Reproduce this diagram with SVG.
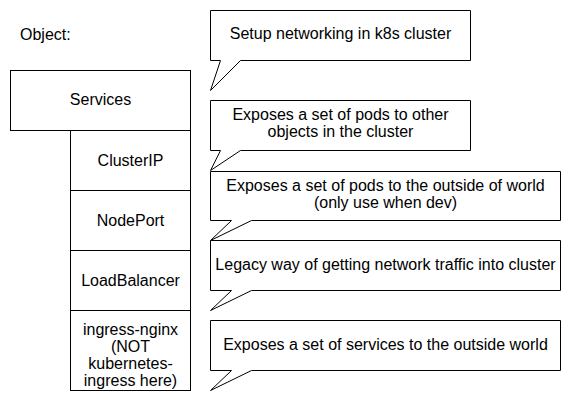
<svg xmlns="http://www.w3.org/2000/svg" width="571" height="411" viewBox="0 0 571 411">
<style>
.box{fill:#ffffff;stroke:#000000;stroke-width:1}
.t{font-family:"Liberation Sans",Arial,Helvetica,sans-serif;font-size:16px;fill:#000000;text-anchor:middle}
.l{text-anchor:start}
</style>
<rect width="571" height="411" fill="#ffffff"/>
<g id="label-object"><text class="t l" x="20" y="40">Object:</text></g>
<g id="services"><rect class="box" x="10.5" y="70.5" width="180" height="60"/><text class="t" x="100.5" y="105">Services</text></g>
<g id="clusterip"><rect class="box" x="70.5" y="130.5" width="120" height="60"/><text class="t" x="130.5" y="166">ClusterIP</text></g>
<g id="nodeport"><rect class="box" x="70.5" y="190.5" width="120" height="60"/><text class="t" x="130.5" y="226">NodePort</text></g>
<g id="loadbalancer"><rect class="box" x="70.5" y="250.5" width="120" height="60"/><text class="t" x="130.5" y="286">LoadBalancer</text></g>
<g id="ingress"><rect class="box" x="70.5" y="310.5" width="120" height="80"/><text class="t" x="130.5" y="335">ingress-nginx</text><text class="t" x="130.5" y="352">(NOT</text><text class="t" x="130.5" y="369">kubernetes-</text><text class="t" x="130.5" y="386">ingress here)</text></g>
<g id="callout-1"><path class="box" d="M210.5 10.5 H470.5 V60.5 H240.5 L210.5 90.5 L220.5 60.5 H210.5 Z"/><text class="t" x="340.5" y="39">Setup networking in k8s cluster</text></g>
<g id="callout-2"><path class="box" d="M210.5 100.5 H470.5 V150.5 H240.5 L210.5 170.5 L220.5 150.5 H210.5 Z"/><text class="t" x="340.5" y="120">Exposes a set of pods to other</text><text class="t" x="340.5" y="137">objects in the cluster</text></g>
<g id="callout-3"><path class="box" d="M210.5 171.5 H560.5 V220.5 H251.5 L210.5 240.5 L231.5 220.5 H210.5 Z"/><text class="t" x="385.5" y="191">Exposes a set of pods to the outside of world</text><text class="t" x="385.5" y="208">(only use when dev)</text></g>
<g id="callout-4"><path class="box" d="M210.5 240.5 H560.5 V290.5 H251.5 L210.5 310.5 L231.5 290.5 H210.5 Z"/><text class="t" x="385.5" y="270">Legacy way of getting network traffic into cluster</text></g>
<g id="callout-5"><path class="box" d="M210.5 320.5 H560.5 V370.5 H251.5 L210.5 390.5 L231.5 370.5 H210.5 Z"/><text class="t" x="385.5" y="350">Exposes a set of services to the outside world</text></g>
<g id="connectors"></g>
</svg>
